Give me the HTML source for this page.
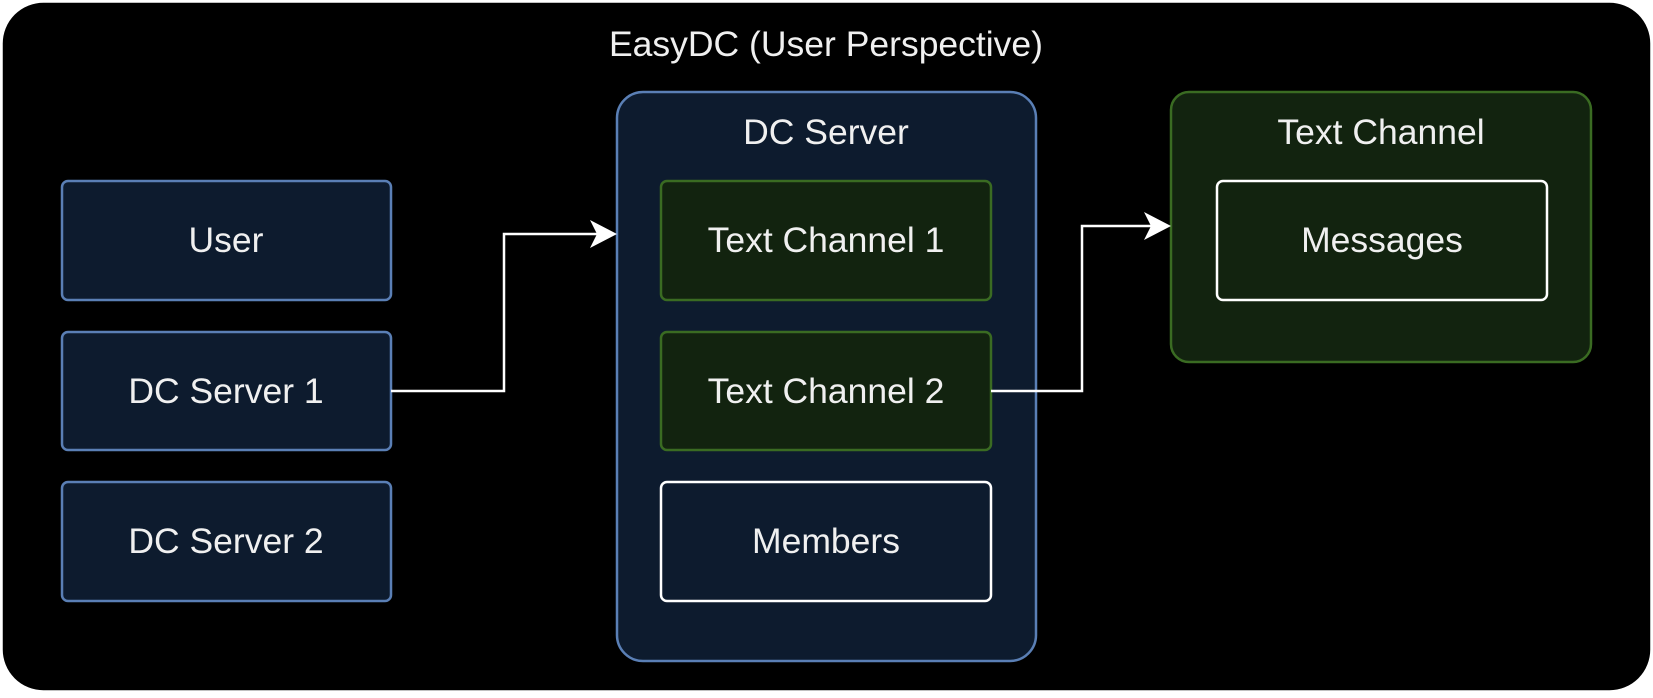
<!DOCTYPE html>
<html><head><meta charset="utf-8"><style>
html,body{margin:0;padding:0;background:#fff;}
svg text{font-family:"Liberation Sans",Arial,sans-serif;fill:#f0f0f0;text-anchor:middle;dominant-baseline:central;}
</style></head><body>
<svg width="1653" height="693" viewBox="0 0 1653 693" xmlns="http://www.w3.org/2000/svg">
<rect x="1.5" y="1.5" width="1650" height="690" rx="42" fill="#000" stroke="#fff" stroke-width="2.5"/>
<text x="826" y="44" font-size="35.5">EasyDC (User Perspective)</text>
<g stroke="#5a7fb5" stroke-width="2.5" fill="#0d1b2e">
<rect x="62" y="181" width="329" height="119" rx="6"/>
<rect x="62" y="332" width="329" height="118" rx="6"/>
<rect x="62" y="482" width="329" height="119" rx="6"/>
<rect x="617" y="92" width="419" height="569" rx="26"/>
</g>
<g stroke="#3a6b22" stroke-width="2.5" fill="#12230f">
<rect x="661" y="181" width="330" height="119" rx="6"/>
<rect x="661" y="332" width="330" height="118" rx="6"/>
<rect x="1171" y="92" width="420" height="270" rx="18"/>
</g>
<rect x="661" y="482" width="330" height="119" rx="6" fill="#0d1b2e" stroke="#fff" stroke-width="2.5"/>
<rect x="1217" y="181" width="330" height="119" rx="6" fill="#12230f" stroke="#fff" stroke-width="2.5"/>
<g font-size="35.5">
<text x="226" y="240">User</text>
<text x="226" y="391">DC Server 1</text>
<text x="226" y="541">DC Server 2</text>
<text x="826" y="132">DC Server</text>
<text x="826" y="240">Text Channel 1</text>
<text x="826" y="391">Text Channel 2</text>
<text x="826" y="541">Members</text>
<text x="1381" y="132">Text Channel</text>
<text x="1382" y="240">Messages</text>
</g>
<g stroke="#fff" stroke-width="2.5" fill="none">
<polyline points="391,391 504,391 504,234 605,234"/>
<polyline points="991,391 1082,391 1082,226 1159,226"/>
</g>
<g fill="#fff">
<polygon points="617,234 590,220 597,234 590,248"/>
<polygon points="1171,226 1144,212 1151,226 1144,240"/>
</g>
</svg>
</body></html>
